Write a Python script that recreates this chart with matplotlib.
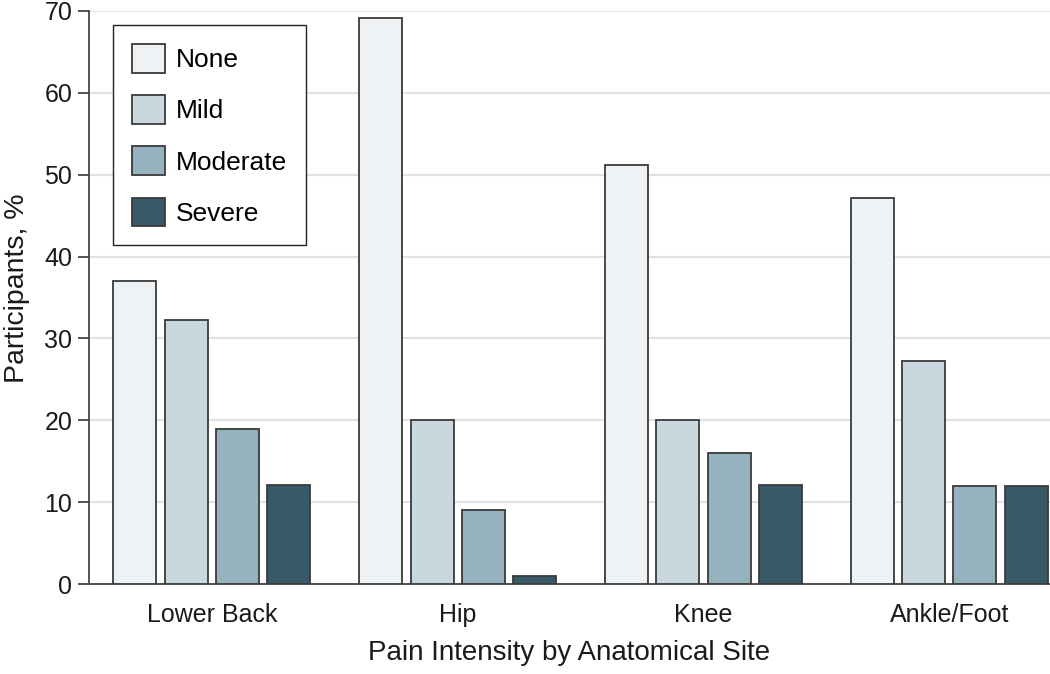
import numpy as np
import matplotlib.pyplot as plt

plt.rcParams['font.family'] = ['Liberation Sans', 'DejaVu Sans']

sites = ['Lower Back', 'Hip', 'Knee', 'Ankle/Foot']
levels = ['None', 'Mild', 'Moderate', 'Severe']
none = [37.0, 69.1, 51.2, 47.1]
mild = [32.2, 20.0, 20.0, 27.3]
moderate = [18.9, 9.0, 16.0, 12.0]
severe = [12.1, 1.0, 12.1, 12.0]
colors = ['#eef2f5', '#c9d8df', '#96b2be', '#385a68']

fig = plt.figure(figsize=(10.5, 6.74), dpi=100)
ax = fig.add_axes([0.0848, 0.1335, 0.9152, 0.8502])

x = np.arange(len(sites))
pitch = 0.209
width = 0.175
series = [none, mild, moderate, severe]
for i, (vals, lab, col) in enumerate(zip(series, levels, colors)):
    ax.bar(x + (i - 1.5) * pitch, vals, width, color=col, edgecolor='#3a3a3a',
           linewidth=1.3, label=lab, zorder=3)

ax.set_xlim(-0.5, 3.41)
ax.set_ylim(0, 70)
ax.set_yticks(range(0, 71, 10))
ax.set_xticks(x)
ax.set_xticklabels(sites)
ax.yaxis.grid(True, color='#e2e2e2', linewidth=1.5, zorder=0)
ax.set_axisbelow(True)
for s in ['top', 'right']:
    ax.spines[s].set_visible(False)
for s in ['left', 'bottom']:
    ax.spines[s].set_color('#444444')
    ax.spines[s].set_linewidth(1.3)
ax.tick_params(axis='y', length=8, width=1.3, color='#444444', labelsize=18, pad=4,
               labelcolor='#1a1a1a')
ax.tick_params(axis='x', length=0, labelsize=18, pad=14, labelcolor='#1a1a1a')
ax.set_ylabel('Participants, %', fontsize=20.5, color='#1a1a1a')
ax.yaxis.set_label_coords(-0.061, 0.517)
ax.set_xlabel('Pain Intensity by Anatomical Site', fontsize=20, labelpad=9,
              color='#1a1a1a')

leg = ax.legend(loc='upper left', bbox_to_anchor=(0.025, 0.9756), fontsize=19,
                frameon=True, fancybox=False, edgecolor='#222222', framealpha=1,
                handlelength=1.25, handleheight=1.3, labelspacing=0.85,
                borderpad=0.72, handletextpad=0.4, borderaxespad=0)
leg.get_frame().set_linewidth(1.0)

fig.savefig('out.png', dpi=100)
